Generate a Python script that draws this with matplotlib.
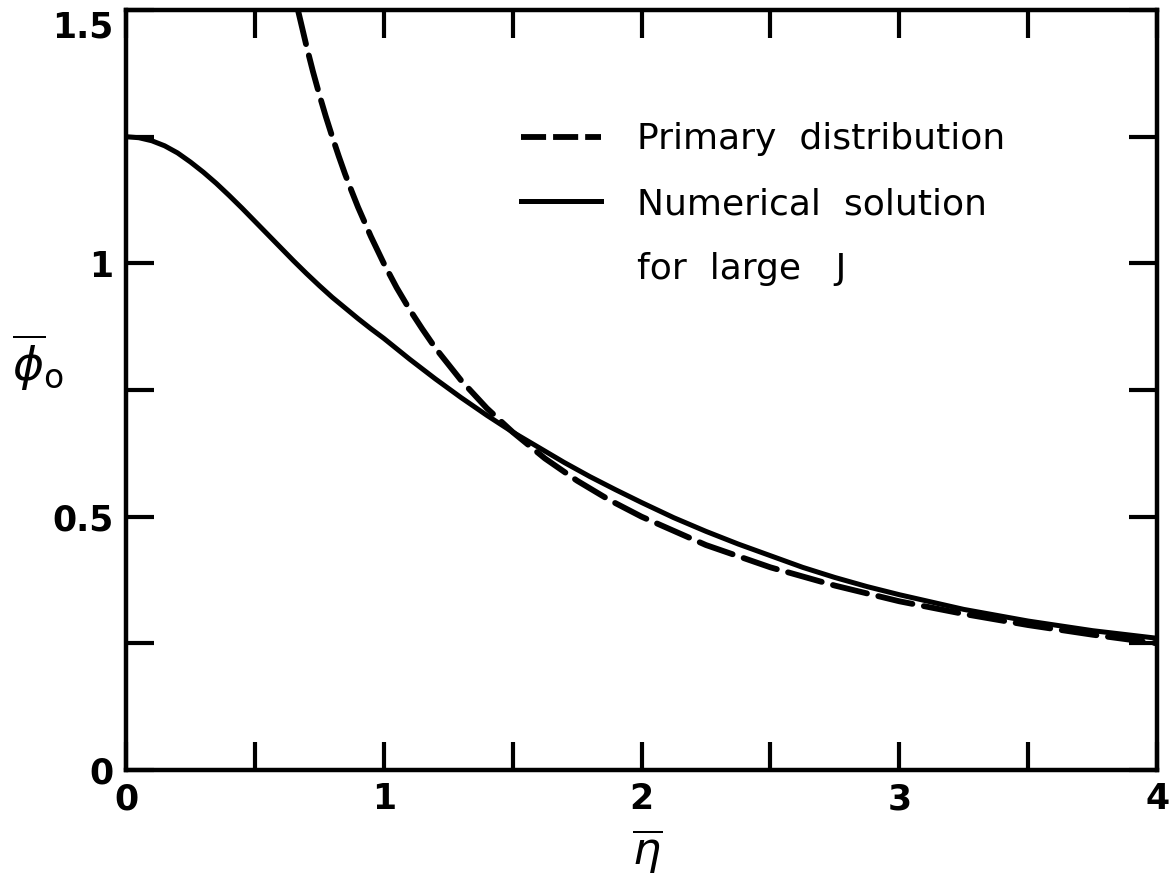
import matplotlib
matplotlib.use("Agg")
import matplotlib.pyplot as plt
from matplotlib.lines import Line2D

# numerical solution for large J
eta_num = [0.0, 0.05, 0.1, 0.15, 0.2, 0.25, 0.3, 0.35, 0.4, 0.45, 0.5, 0.55, 0.6,
           0.65, 0.7, 0.75, 0.8, 0.85, 0.9, 0.95, 1.0, 1.1, 1.2, 1.3, 1.4, 1.5,
           1.6, 1.7, 1.8, 1.9, 2.0, 2.125, 2.25, 2.375, 2.5, 2.625, 2.75, 2.875,
           3.0, 3.25, 3.5, 3.75, 4.0]
phi_num = [1.25, 1.248, 1.242, 1.232, 1.218, 1.200, 1.180, 1.158, 1.134, 1.109,
           1.083, 1.057, 1.031, 1.005, 0.980, 0.956, 0.933, 0.912, 0.891, 0.871,
           0.852, 0.811, 0.772, 0.735, 0.700, 0.667, 0.637, 0.607, 0.579, 0.553,
           0.528, 0.498, 0.471, 0.446, 0.423, 0.400, 0.380, 0.362, 0.346, 0.317,
           0.294, 0.275, 0.260]

# primary distribution
eta_prim = [0.667, 0.7, 0.725, 0.75, 0.775, 0.8, 0.825, 0.85, 0.875, 0.9, 0.95,
            1.0, 1.05, 1.1, 1.15, 1.2, 1.3, 1.4, 1.5, 1.625, 1.75, 1.875, 2.0,
            2.25, 2.5, 2.75, 3.0, 3.25, 3.5, 3.75, 4.0]
phi_prim = [1.5, 1.429, 1.379, 1.333, 1.290, 1.25, 1.212, 1.176, 1.143, 1.111,
            1.053, 1.0, 0.952, 0.909, 0.870, 0.833, 0.769, 0.714, 0.667, 0.615,
            0.571, 0.533, 0.5, 0.444, 0.4, 0.364, 0.333, 0.308, 0.286, 0.267, 0.25]

x_ticks = [0, 1, 2, 3, 4]
y_ticks = [0, 0.5, 1, 1.5]
y_tick_labels = ["0", "0.5", "1", "1.5"]

plt.rcParams['mathtext.fontset'] = 'dejavusans'

fig = plt.figure(figsize=(11.69, 8.74), dpi=100)
ax = fig.add_axes([0.1078, 0.119, 0.882, 0.8695])

ax.plot(eta_prim, phi_prim, color='black', lw=4.2, dashes=(6.0, 2.0),
        solid_capstyle='round', dash_capstyle='round')
ax.plot(eta_num, phi_num, color='black', lw=3.6, solid_capstyle='round')

ax.set_xlim(0, 4)
ax.set_ylim(0, 1.5)

ax.set_xticks(x_ticks)
ax.set_xticks([0.5, 1.5, 2.5, 3.5], minor=True)
ax.set_yticks(y_ticks)
ax.set_yticklabels(y_tick_labels)
ax.set_yticks([0.25, 0.75, 1.25], minor=True)

ax.tick_params(which='both', direction='in', top=True, right=True,
               length=20, width=3)
ax.tick_params(which='major', labelsize=25, pad=9)
for lab in ax.get_xticklabels() + ax.get_yticklabels():
    lab.set_fontweight('bold')
# keep the top label inside the figure
ax.get_yticklabels()[-1].set_verticalalignment('top')
for s in ax.spines.values():
    s.set_linewidth(3.2)

ax.set_xlabel(r'$\overline{\eta}$', fontsize=32)
ax.xaxis.set_label_coords(0.505, -0.075)
ax.set_ylabel(r'$\overline{\phi}_{\mathrm{o}}$', fontsize=34, rotation=0)
ax.yaxis.set_label_coords(-0.085, 0.495)

handles = [Line2D([], [], color='black', lw=4.2, dashes=(4.3, 1.2)),
           Line2D([], [], color='black', lw=3.6),
           Line2D([], [], color='none')]
labels = ["Primary  distribution", "Numerical  solution", "for  large   J"]
ax.legend(handles, labels, loc='upper left', bbox_to_anchor=(0.352, 0.895),
          frameon=False, fontsize=26, handlelength=2.2, handletextpad=1.0,
          labelspacing=0.85)

fig.savefig("out.png", dpi=100)
